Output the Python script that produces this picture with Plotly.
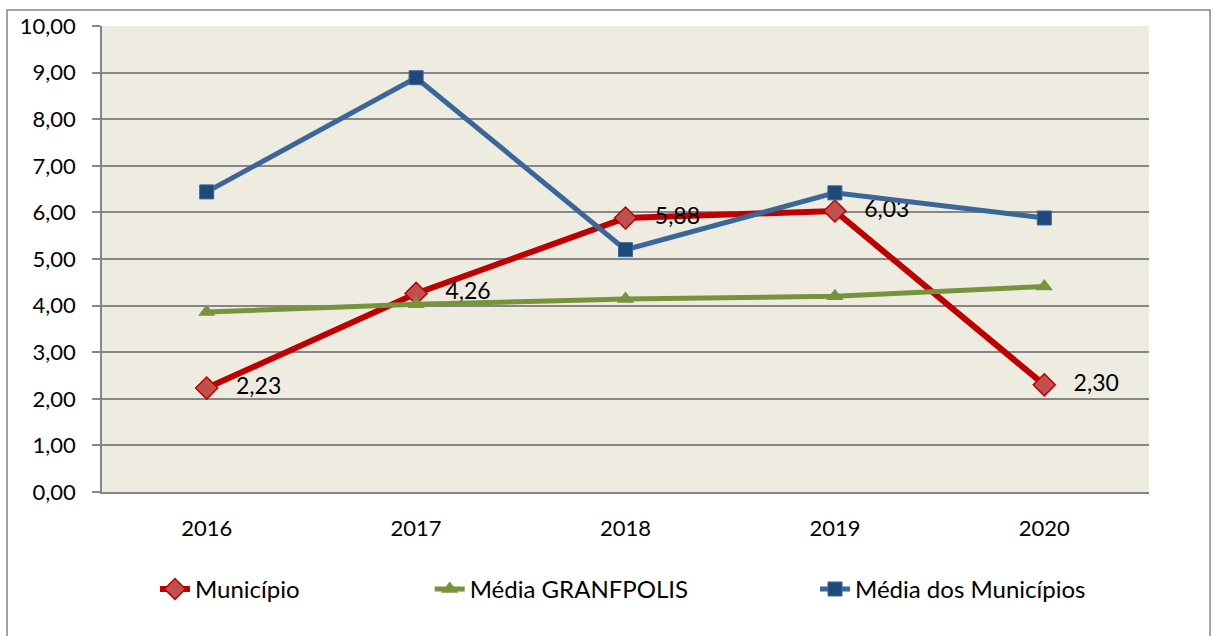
import plotly.graph_objects as go

years = ["2016", "2017", "2018", "2019", "2020"]
municipio = [2.23, 4.26, 5.88, 6.03, 2.30]
media_granfpolis = [3.86, 4.03, 4.14, 4.20, 4.41]
media_municipios = [6.44, 8.89, 5.20, 6.42, 5.88]
y_ticks = [0, 1, 2, 3, 4, 5, 6, 7, 8, 9, 10]

FONT = "Lato"
FS = 22
LFS = 24
fig = go.Figure()

fig.add_trace(go.Scatter(
    x=years, y=municipio, name="Município", mode="lines+markers+text",
    line=dict(color="#C00000", width=6),
    marker=dict(symbol="diamond", size=17, color="#C0504D", line=dict(color="#C00000", width=1.5)),
    texttemplate="   %{y:.2f}", textposition="middle right",
    textfont=dict(family=FONT, size=23, color="#000000"),
    showlegend=True, legend="legend"))
fig.add_trace(go.Scatter(
    x=years, y=media_granfpolis, name="Média GRANFPOLIS", mode="lines+markers",
    line=dict(color="#77933C", width=5),
    marker=dict(symbol="triangle-up", size=15, color="#77933C"),
    showlegend=True, legend="legend2"))
fig.add_trace(go.Scatter(
    x=years, y=media_municipios, name="Média dos Municípios", mode="lines+markers",
    line=dict(color="#3A6699", width=5),
    marker=dict(symbol="square", size=14, color="#1F497D", line=dict(color="#3A6699", width=1)),
    showlegend=True, legend="legend3"))

fig.update_layout(
    width=1214, height=636,
    margin=dict(l=102, r=65, t=23, b=144),
    paper_bgcolor="white", plot_bgcolor="#EEECE1",
    separators=",.",
    showlegend=True,
    font=dict(family=FONT, size=FS, color="#000000"),
    xaxis=dict(type="category", range=[-0.5, 4.5], showgrid=False,
               showline=True, linecolor="#868686", linewidth=1.5,
               ticks="", ticklabelstandoff=16, tickfont=dict(size=FS)),
    yaxis=dict(range=[0, 10], tickvals=y_ticks, tickformat=".2f",
               showgrid=True, gridcolor="#868686", gridwidth=1.5,
               showline=True, linecolor="#868686", linewidth=1.5,
               ticks="outside", ticklen=8, tickcolor="#868686", tickwidth=1.5,
               zeroline=False, ticklabelstandoff=12, tickfont=dict(size=FS)),
    legend=dict(x=0.0506, y=-0.209, xanchor="left", yanchor="middle",
                bgcolor="rgba(0,0,0,0)", font=dict(size=LFS), visible=True),
    legend2=dict(x=0.313, y=-0.209, xanchor="left", yanchor="middle",
                 bgcolor="rgba(0,0,0,0)", font=dict(size=LFS), visible=True),
    legend3=dict(x=0.681, y=-0.209, xanchor="left", yanchor="middle",
                 bgcolor="rgba(0,0,0,0)", font=dict(size=LFS), visible=True),
    shapes=[dict(type="rect", xref="paper", yref="paper",
                 x0=-0.0907, x1=1.0583, y0=-0.3156, y1=1.0341,
                 line=dict(color="#868686", width=1.5), layer="below")],
)

fig.write_html("out.html", config={"displayModeBar": False},
               post_script="document.body.style.margin='0';")
